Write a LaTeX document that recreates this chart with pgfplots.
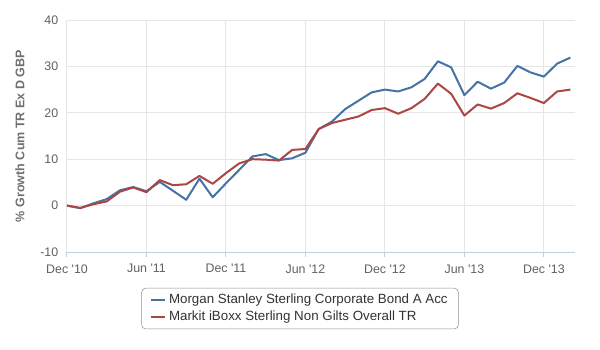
\documentclass[border=0pt]{standalone}
\usepackage{fontspec}
\setmainfont{Liberation Sans}
\usepackage{pgfplots}
\pgfplotsset{compat=1.18}
\definecolor{msblue}{HTML}{4572A7}
\definecolor{mkred}{HTML}{AA4643}
\definecolor{gridc}{HTML}{E6E6E6}
\definecolor{axisc}{HTML}{C0D0E0}
\definecolor{labc}{HTML}{606060}
\definecolor{ylabc}{HTML}{707070}
\definecolor{legc}{HTML}{333333}
\begin{document}
\begin{tikzpicture}
\useasboundingbox (-50.25pt,-73.5pt) rectangle (399.75pt,189pt);
\begin{axis}[
  at={(0pt,0pt)}, anchor=south west,
  scale only axis, width=381pt, height=174pt,
  xmin=0, xmax=38.35, ymin=-10, ymax=40,
  axis x line*=bottom, axis y line*=left,
  y axis line style={draw=none},
  x axis line style={axisc, line width=0.75pt, -},
  xtick={0,6,12,18,24,30,36},
  xticklabels={Dec \textquotesingle10, Jun \textquotesingle11, Dec \textquotesingle11, Jun \textquotesingle12, Dec \textquotesingle12, Jun \textquotesingle13, Dec \textquotesingle13},
  ytick={-10,0,10,20,30,40},
  yticklabels={-10,0,10,20,30,40},
  xtick align=outside,
  major tick length=3.75pt,
  xtick style={axisc, line width=0.75pt},
  ytick style={draw=none},
  grid=major,
  major grid style={gridc, line width=0.75pt},
  tick label style={font=\fontsize{9.3}{10}\selectfont, text=labc},
  xticklabel style={yshift=-2pt},
  yticklabel style={xshift=-3pt},
  ylabel={\% Growth Cum TR Ex D GBP},
  every axis y label/.style={at={(axis description cs:-0.0925,0.5)}, rotate=90, anchor=center,
     font=\bfseries\fontsize{9.4}{10}\selectfont, text=ylabc},
  legend style={at={(axis description cs:0.4587,-0.155)}, anchor=north,
    draw={rgb,255:red,144;green,144;blue,144}, rounded corners=3pt,
    font=\fontsize{10}{12}\selectfont, text=legc,
    inner xsep=6pt, inner ysep=2.5pt, row sep=0pt, cells={anchor=west}},
  legend image code/.code={\draw[#1, line width=1.5pt] (0pt,0pt) -- (11pt,0pt);},
  every axis plot/.append style={line width=1.5pt, line join=round},
  clip=false,
]
\addplot[msblue, mark=none] coordinates {
(0,0.0) (1,-0.55) (2,0.5) (3,1.4) (4,3.3) (5,4.0) (6,3.1) (7,5.1) (8,3.2) (9,1.25)
(10,5.8) (11,1.8) (12,4.8) (13,7.7) (14,10.6) (15,11.1) (16,9.8) (17,10.2) (18,11.4)
(19,16.5) (20,18.1) (21,20.8) (22,22.6) (23,24.4) (24,25.0) (25,24.6) (26,25.5) (27,27.3)
(28,31.1) (29,29.8) (30,23.8) (31,26.7) (32,25.2) (33,26.5) (34,30.1) (35,28.7) (36,27.8)
(37,30.6) (38,31.9)
};
\addlegendentry{Morgan Stanley Sterling Corporate Bond A Acc}
\addplot[mkred, mark=none] coordinates {
(0,0.0) (1,-0.5) (2,0.3) (3,0.9) (4,3.0) (5,3.9) (6,2.9) (7,5.5) (8,4.4) (9,4.6)
(10,6.4) (11,4.7) (12,7.0) (13,9.1) (14,10.0) (15,9.9) (16,9.7) (17,12.0) (18,12.2)
(19,16.5) (20,17.8) (21,18.5) (22,19.2) (23,20.6) (24,21.0) (25,19.8) (26,21.0) (27,23.0)
(28,26.3) (29,24.1) (30,19.4) (31,21.8) (32,20.9) (33,22.1) (34,24.2) (35,23.2) (36,22.1)
(37,24.6) (38,25.0)
};
\addlegendentry{Markit iBoxx Sterling Non Gilts Overall TR}
\end{axis}
\end{tikzpicture}
\end{document}
